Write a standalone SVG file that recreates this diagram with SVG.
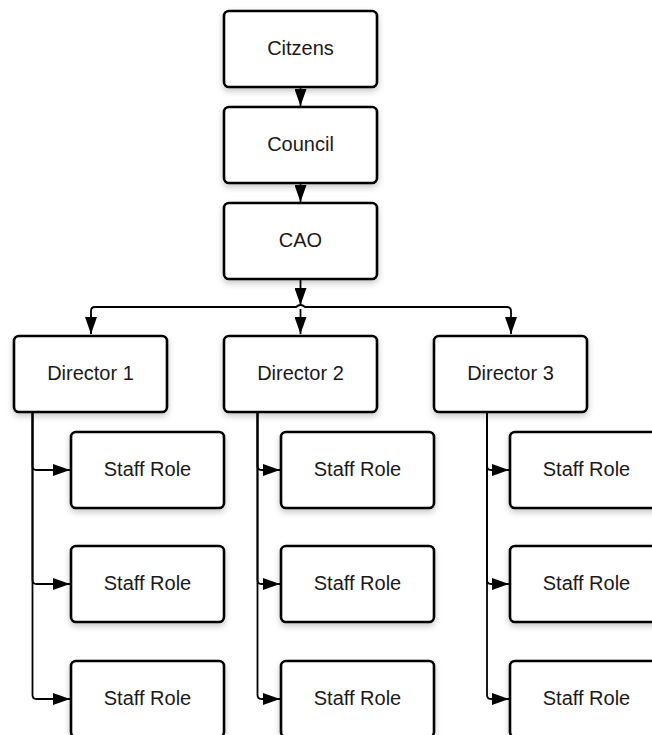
<svg xmlns="http://www.w3.org/2000/svg" width="652" height="735" viewBox="0 0 652 735">
<defs>
<filter id="sh" x="-20%" y="-20%" width="140%" height="150%">
<feDropShadow dx="0" dy="3" stdDeviation="3" flood-color="#000" flood-opacity="0.22"/>
</filter>
<marker id="ah" viewBox="0 0 17 12" refX="17" refY="6" markerWidth="17" markerHeight="12" markerUnits="userSpaceOnUse" orient="auto">
<path d="M0,0 L17,6 L0,12 Z" fill="#000"/>
</marker>
</defs>
<style>
.box{fill:#fff;stroke:#000;stroke-width:2.6;filter:url(#sh)}
.t{font-family:"Liberation Sans",Arial,sans-serif;font-size:20px;fill:#1a1a1a;text-anchor:middle}
.c{fill:none;stroke:#000;stroke-width:1.8}
</style>
<g id="connectors">
<path class="c" d="M300.5,88 L300.5,106" marker-end="url(#ah)"/>
<path class="c" d="M300.5,184 L300.5,202" marker-end="url(#ah)"/>
<path class="c" d="M300.5,280 L300.5,305" marker-end="url(#ah)"/>
<path class="c" d="M91,334 L91,311 Q91,307 95,307 L296,307 Q300.5,303 305,307 L507,307 Q511,307 511,311 L511,334" marker-end="url(#ah)"/>
<path class="c" d="M91,314 L91,334" marker-end="url(#ah)"/>
<path class="c" d="M300.5,309 L300.5,334" marker-end="url(#ah)"/>
<!-- Director 1 -->
<path class="c" d="M32.5,413 L32.5,466 Q32.5,470 36.5,470 L70,470" marker-end="url(#ah)"/>
<path class="c" d="M32.5,413 L32.5,580 Q32.5,584 36.5,584 L70,584" marker-end="url(#ah)"/>
<path class="c" d="M32.5,413 L32.5,695 Q32.5,699 36.5,699 L70,699" marker-end="url(#ah)"/>
<!-- Director 2 -->
<path class="c" d="M257.5,413 L257.5,466 Q257.5,470 261.5,470 L280,470" marker-end="url(#ah)"/>
<path class="c" d="M257.5,413 L257.5,580 Q257.5,584 261.5,584 L280,584" marker-end="url(#ah)"/>
<path class="c" d="M257.5,413 L257.5,695 Q257.5,699 261.5,699 L280,699" marker-end="url(#ah)"/>
<!-- Director 3 -->
<path class="c" d="M487,413 L487,466 Q487,470 491,470 L509,470" marker-end="url(#ah)"/>
<path class="c" d="M487,413 L487,580 Q487,584 491,584 L509,584" marker-end="url(#ah)"/>
<path class="c" d="M487,413 L487,695 Q487,699 491,699 L509,699" marker-end="url(#ah)"/>
</g>
<g id="citizens"><rect class="box" x="224" y="11" width="153" height="76" rx="5"/><text class="t" x="300.5" y="55">Citzens</text></g>
<g id="council"><rect class="box" x="224" y="107" width="153" height="76" rx="5"/><text class="t" x="300.5" y="151">Council</text></g>
<g id="cao"><rect class="box" x="224" y="203" width="153" height="76" rx="5"/><text class="t" x="300.5" y="247">CAO</text></g>
<g id="director1"><rect class="box" x="14" y="336" width="153" height="76" rx="5"/><text class="t" x="90.5" y="380">Director 1</text></g>
<g id="director2"><rect class="box" x="224" y="336" width="153" height="76" rx="5"/><text class="t" x="300.5" y="380">Director 2</text></g>
<g id="director3"><rect class="box" x="434" y="336" width="153" height="76" rx="5"/><text class="t" x="510.5" y="380">Director 3</text></g>
<g id="staff1a"><rect class="box" x="71" y="432" width="153" height="76" rx="5"/><text class="t" x="147.5" y="476">Staff Role</text></g>
<g id="staff1b"><rect class="box" x="71" y="546" width="153" height="76" rx="5"/><text class="t" x="147.5" y="590">Staff Role</text></g>
<g id="staff1c"><rect class="box" x="71" y="661" width="153" height="76" rx="5"/><text class="t" x="147.5" y="705">Staff Role</text></g>
<g id="staff2a"><rect class="box" x="281" y="432" width="153" height="76" rx="5"/><text class="t" x="357.5" y="476">Staff Role</text></g>
<g id="staff2b"><rect class="box" x="281" y="546" width="153" height="76" rx="5"/><text class="t" x="357.5" y="590">Staff Role</text></g>
<g id="staff2c"><rect class="box" x="281" y="661" width="153" height="76" rx="5"/><text class="t" x="357.5" y="705">Staff Role</text></g>
<g id="staff3a"><rect class="box" x="510" y="432" width="153" height="76" rx="5"/><text class="t" x="586.5" y="476">Staff Role</text></g>
<g id="staff3b"><rect class="box" x="510" y="546" width="153" height="76" rx="5"/><text class="t" x="586.5" y="590">Staff Role</text></g>
<g id="staff3c"><rect class="box" x="510" y="661" width="153" height="76" rx="5"/><text class="t" x="586.5" y="705">Staff Role</text></g>
</svg>
